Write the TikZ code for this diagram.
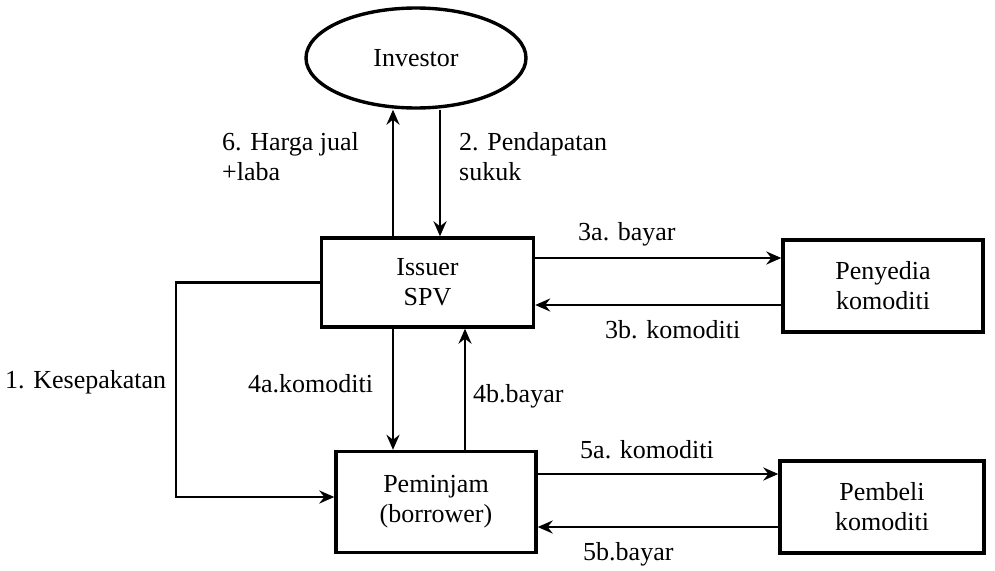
\documentclass[tikz,border=0pt]{standalone}
\usepackage{fontspec}
\setmainfont{Liberation Serif}
\usetikzlibrary{shapes.geometric,arrows.meta}
\begin{document}
\begin{tikzpicture}[x=1pt,y=-1pt,
  every node/.style={font=\fontsize{26}{30}\selectfont},
  box/.style={draw,line width=3.4pt,inner sep=0pt,align=center},
  arr/.style={line width=2.7pt,-{Stealth[length=15pt,width=13pt,inset=5pt]}},
  lbl/.style={inner sep=0pt,align=left,anchor=base west}]
\useasboundingbox (0,0) rectangle (995,570);
% nodes
\node[box,ellipse,minimum width=220pt,minimum height=100pt] (inv) at (416,58) {Investor};
\node[box,minimum width=212pt,minimum height=89pt] (iss) at (427.5,282.5) {Issuer\\SPV};
\node[box,minimum width=200pt,minimum height=92pt] (pen) at (883,286) {Penyedia\\komoditi};
\node[box,minimum width=200pt,minimum height=101pt] (pem) at (436,502) {Peminjam\\(borrower)};
\node[box,minimum width=204pt,minimum height=92pt] (pmb) at (882,507) {Pembeli\\komoditi};
% helper coordinates
\coordinate (x6) at (393,0);
\coordinate (x2) at (440,0);
\coordinate (x4a) at (393,0);
\coordinate (x4b) at (465,0);
\coordinate (y3a) at (0,258);
\coordinate (y3b) at (0,305);
\coordinate (y5a) at (0,474);
\coordinate (y5b) at (0,527);
\coordinate (k1) at (176,400);
\coordinate (y1) at (0,497);
% connectors
\draw[arr] (iss.north -| x6) -- (inv.south -| x6);
\draw[arr] (inv.south -| x2) -- (iss.north -| x2);
\draw[arr] (iss.east |- y3a) -- (pen.west |- y3a);
\draw[arr] (pen.west |- y3b) -- (iss.east |- y3b);
\draw[arr] (iss.south -| x4a) -- (pem.north -| x4a);
\draw[arr] (pem.north -| x4b) -- (iss.south -| x4b);
\draw[arr] (pem.east |- y5a) -- (pmb.west |- y5a);
\draw[arr] (pmb.west |- y5b) -- (pem.east |- y5b);
\draw[arr] (iss.west) -| (k1) |- (pem.west |- y1);
% labels
\node[lbl] (l6) at (222,180) {6. Harga jual\\+laba};
\node[lbl] (l2) at (459,180) {2. Pendapatan\\sukuk};
\node[lbl] (l3a) at (578,240) {3a. bayar};
\node[lbl] (l3b) at (605,338) {3b. komoditi};
\node[lbl] (l1) at (5,388) {1. Kesepakatan};
\node[lbl] (l4a) at (248,392) {4a.komoditi};
\node[lbl] (l4b) at (473,402) {4b.bayar};
\node[lbl] (l5a) at (580,458) {5a. komoditi};
\node[lbl] (l5b) at (583,560) {5b.bayar};
\end{tikzpicture}
\end{document}
